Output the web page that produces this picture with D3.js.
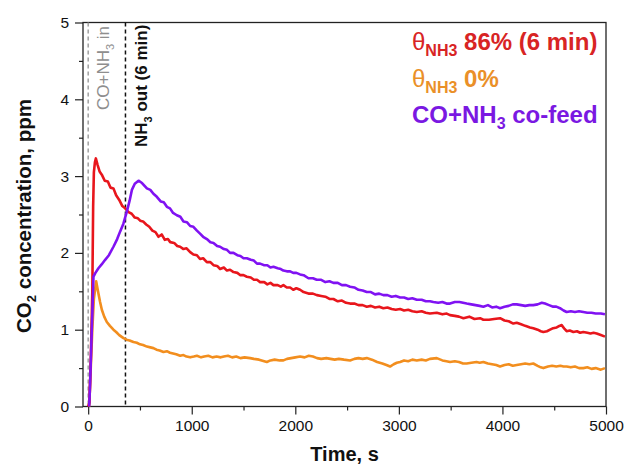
<!DOCTYPE html>
<html>
<head>
<meta charset="utf-8">
<script src="https://cdn.jsdelivr.net/npm/d3@7"></script>
<style>
  body { margin: 0; background: #fff; }
  svg { font-family: "Liberation Sans", Arial, sans-serif; display: block; }
</style>
</head>
<body>
<svg class="chart"></svg>
<script>
// time (s) and CO2 (ppm)
const redTime = [0, 12, 25, 40, 48, 55, 65, 74, 90, 110, 135, 160, 190, 215, 244, 270, 300, 330, 357, 390, 420, 450, 480, 502, 530, 560, 590, 620, 650, 679, 710, 740, 770, 792, 830, 860, 888, 920, 950, 985, 1016, 1050, 1080, 1110, 1146, 1180, 1210, 1245, 1274, 1310, 1340, 1370, 1403, 1440, 1470, 1500, 1532, 1570, 1600, 1630, 1660, 1700, 1730, 1760, 1789, 1830, 1860, 1885, 1918, 1950, 1980, 2010, 2046, 2080, 2127, 2170, 2208, 2250, 2290, 2330, 2368, 2410, 2450, 2490, 2529, 2570, 2610, 2650, 2690, 2730, 2770, 2810, 2850, 2890, 2930, 2970, 3012, 3050, 3090, 3130, 3173, 3220, 3260, 3300, 3366, 3420, 3462, 3494, 3540, 3580, 3623, 3680, 3730, 3784, 3816, 3870, 3920, 3977, 4020, 4060, 4105, 4138, 4180, 4220, 4266, 4298, 4340, 4370, 4395, 4430, 4460, 4490, 4524, 4550, 4572, 4600, 4620, 4650, 4685, 4720, 4750, 4781, 4820, 4850, 4880, 4910, 4950, 4990];
const redCO2 = [0, 0.05, 0.6, 1.5, 2.6, 3.05, 3.18, 3.23, 3.15, 3.06, 3.01, 2.94, 2.93, 2.85, 2.84, 2.75, 2.69, 2.61, 2.58, 2.53, 2.51, 2.46, 2.45, 2.42, 2.41, 2.37, 2.34, 2.29, 2.27, 2.21, 2.24, 2.17, 2.18, 2.14, 2.13, 2.09, 2.08, 2.05, 2.06, 2.01, 1.98, 1.97, 1.92, 1.93, 1.88, 1.88, 1.84, 1.83, 1.79, 1.81, 1.77, 1.78, 1.75, 1.74, 1.71, 1.71, 1.69, 1.68, 1.65, 1.65, 1.62, 1.62, 1.59, 1.61, 1.58, 1.58, 1.56, 1.58, 1.55, 1.55, 1.52, 1.54, 1.52, 1.49, 1.47, 1.47, 1.45, 1.44, 1.43, 1.40, 1.40, 1.37, 1.38, 1.35, 1.34, 1.34, 1.32, 1.32, 1.30, 1.31, 1.29, 1.30, 1.28, 1.29, 1.27, 1.26, 1.27, 1.25, 1.26, 1.24, 1.23, 1.24, 1.22, 1.21, 1.22, 1.20, 1.21, 1.19, 1.18, 1.17, 1.15, 1.17, 1.14, 1.15, 1.13, 1.13, 1.14, 1.15, 1.12, 1.11, 1.08, 1.09, 1.07, 1.05, 1.03, 1.02, 1.00, 0.98, 0.97, 0.98, 1.00, 1.02, 1.03, 1.05, 1.06, 1.01, 0.98, 0.99, 0.97, 0.98, 0.96, 0.97, 0.96, 0.95, 0.96, 0.95, 0.93, 0.91];

const orangeTime = [10, 25, 40, 55, 77, 99, 115, 132, 155, 180, 210, 244, 270, 300, 341, 370, 400, 437, 470, 500, 530, 567, 600, 630, 660, 690, 727, 760, 790, 820, 850, 888, 920, 950, 985, 1020, 1050, 1090, 1120, 1160, 1200, 1240, 1280, 1310, 1350, 1390, 1430, 1470, 1510, 1564, 1600, 1650, 1700, 1725, 1760, 1800, 1850, 1885, 1920, 1960, 2000, 2046, 2090, 2130, 2170, 2210, 2250, 2300, 2340, 2380, 2420, 2470, 2529, 2570, 2610, 2650, 2690, 2740, 2790, 2840, 2880, 2915, 2950, 2980, 3012, 3050, 3090, 3130, 3173, 3220, 3260, 3300, 3366, 3420, 3460, 3494, 3540, 3580, 3620, 3655, 3700, 3750, 3780, 3816, 3860, 3900, 3940, 3977, 4020, 4060, 4100, 4138, 4180, 4220, 4260, 4298, 4340, 4370, 4395, 4440, 4480, 4520, 4560, 4590, 4620, 4660, 4700, 4740, 4781, 4820, 4860, 4900, 4950, 4990];
const orangeCO2 = [0, 0.5, 1.0, 1.4, 1.63, 1.47, 1.36, 1.26, 1.17, 1.10, 1.05, 1.00, 0.97, 0.93, 0.89, 0.87, 0.86, 0.84, 0.83, 0.81, 0.80, 0.78, 0.77, 0.76, 0.74, 0.73, 0.71, 0.72, 0.70, 0.69, 0.68, 0.66, 0.67, 0.65, 0.64, 0.65, 0.66, 0.64, 0.65, 0.66, 0.64, 0.65, 0.64, 0.65, 0.66, 0.64, 0.65, 0.63, 0.64, 0.63, 0.62, 0.61, 0.59, 0.58, 0.60, 0.61, 0.60, 0.60, 0.62, 0.63, 0.64, 0.65, 0.64, 0.66, 0.65, 0.63, 0.62, 0.63, 0.62, 0.61, 0.62, 0.61, 0.60, 0.62, 0.63, 0.62, 0.63, 0.61, 0.58, 0.56, 0.54, 0.52, 0.55, 0.57, 0.58, 0.60, 0.59, 0.61, 0.60, 0.61, 0.60, 0.62, 0.63, 0.60, 0.59, 0.58, 0.59, 0.58, 0.56, 0.56, 0.57, 0.58, 0.57, 0.58, 0.56, 0.55, 0.54, 0.52, 0.54, 0.55, 0.53, 0.54, 0.55, 0.56, 0.55, 0.56, 0.53, 0.51, 0.50, 0.52, 0.53, 0.52, 0.53, 0.52, 0.52, 0.51, 0.52, 0.50, 0.50, 0.51, 0.49, 0.50, 0.48, 0.50];

const purpleTime = [10, 20, 30, 40, 51, 70, 99, 130, 164, 200, 244, 280, 309, 340, 374, 400, 422, 450, 486, 520, 567, 600, 630, 663, 700, 730, 760, 790, 820, 856, 890, 920, 953, 985, 1016, 1050, 1080, 1110, 1146, 1180, 1210, 1245, 1274, 1310, 1340, 1370, 1403, 1440, 1470, 1500, 1532, 1570, 1600, 1630, 1660, 1700, 1730, 1760, 1789, 1830, 1860, 1885, 1918, 1950, 1980, 2010, 2046, 2080, 2127, 2170, 2207, 2250, 2290, 2330, 2368, 2410, 2450, 2490, 2529, 2570, 2610, 2650, 2690, 2730, 2770, 2810, 2850, 2890, 2930, 2970, 3012, 3050, 3090, 3130, 3173, 3220, 3260, 3300, 3333, 3380, 3420, 3460, 3494, 3540, 3585, 3620, 3655, 3700, 3740, 3780, 3816, 3860, 3900, 3940, 3977, 4020, 4060, 4100, 4138, 4180, 4220, 4260, 4298, 4340, 4380, 4411, 4450, 4490, 4520, 4556, 4590, 4620, 4660, 4700, 4740, 4781, 4820, 4860, 4900, 4950, 4990];
const purpleCO2 = [0, 0.35, 0.8, 1.2, 1.69, 1.74, 1.80, 1.85, 1.91, 1.97, 2.08, 2.18, 2.28, 2.38, 2.54, 2.68, 2.82, 2.90, 2.94, 2.91, 2.84, 2.82, 2.77, 2.73, 2.67, 2.66, 2.60, 2.58, 2.52, 2.49, 2.47, 2.41, 2.40, 2.35, 2.34, 2.29, 2.25, 2.21, 2.18, 2.14, 2.13, 2.09, 2.08, 2.05, 2.04, 2.00, 2.00, 1.97, 1.96, 1.93, 1.93, 1.91, 1.90, 1.86, 1.86, 1.84, 1.84, 1.81, 1.82, 1.80, 1.79, 1.77, 1.76, 1.76, 1.74, 1.74, 1.72, 1.71, 1.67, 1.67, 1.65, 1.65, 1.62, 1.63, 1.61, 1.61, 1.58, 1.58, 1.56, 1.55, 1.52, 1.51, 1.49, 1.49, 1.46, 1.47, 1.45, 1.45, 1.43, 1.44, 1.42, 1.42, 1.40, 1.41, 1.39, 1.39, 1.37, 1.37, 1.36, 1.35, 1.36, 1.34, 1.34, 1.36, 1.36, 1.35, 1.34, 1.33, 1.32, 1.31, 1.30, 1.32, 1.29, 1.30, 1.28, 1.30, 1.31, 1.33, 1.33, 1.32, 1.31, 1.32, 1.32, 1.33, 1.35, 1.34, 1.32, 1.30, 1.30, 1.28, 1.25, 1.23, 1.24, 1.23, 1.24, 1.23, 1.22, 1.22, 1.21, 1.21, 1.20];

const xMajor = [0, 1000, 2000, 3000, 4000, 5000];
const xMinor = [500, 1500, 2500, 3500, 4500];
const yMajor = [0, 1, 2, 3, 4, 5];
const yMinor = [0.5, 1.5, 2.5, 3.5, 4.5];

const co2In = 0;      // CO+NH3 in
const nh3Out = 360;   // NH3 out (6 min)

const
  margin = {top: 22.5, right: 19, bottom: 59.5, left: 83},
  width = 625 - margin.left - margin.right,
  height = 466 - margin.top - margin.bottom;

const red = "#e8161c", orange = "#f28e1e", purple = "#8012f2";

const xScale = d3.scaleLinear()
  .domain([-50, 5000])
  .range([0, width]);

const yScale = d3.scaleLinear()
  .domain([0, 5])
  .range([height, 0]);

const svg = d3.select(".chart")
  .attr("width", 625)
  .attr("height", 466);

const g = svg.append("g")
  .attr("transform", `translate(${margin.left},${margin.top})`);

// axes: majors with labels, minors without
g.append("g")
  .attr("transform", `translate(0,${height})`)
  .call(d3.axisBottom(xScale).tickValues(xMajor).tickFormat(d3.format("d")).tickSize(8).tickSizeOuter(0).tickPadding(5))
  .call(a => a.select(".domain").remove());

g.append("g")
  .attr("transform", `translate(0,${height})`)
  .call(d3.axisBottom(xScale).tickValues(xMinor).tickSize(4).tickSizeOuter(0).tickFormat(""))
  .call(a => a.select(".domain").remove());

g.append("g")
  .call(d3.axisLeft(yScale).tickValues(yMajor).tickFormat(d3.format("d")).tickSize(8).tickSizeOuter(0).tickPadding(6))
  .call(a => a.select(".domain").remove());

g.append("g")
  .call(d3.axisLeft(yScale).tickValues(yMinor).tickSize(4).tickSizeOuter(0).tickFormat(""))
  .call(a => a.select(".domain").remove());

g.selectAll(".tick line").attr("stroke", "#222").attr("stroke-width", 1.2);
g.selectAll(".tick text")
  .attr("font-size", 15.5)
  .attr("font-family", "'Liberation Sans', Arial, sans-serif")
  .attr("fill", "#111");

// frame
g.append("rect")
  .attr("width", width)
  .attr("height", height)
  .attr("fill", "none")
  .attr("stroke", "#222")
  .attr("stroke-width", 1.3);

// event markers
g.append("line")
  .attr("x1", xScale(co2In)).attr("x2", xScale(co2In))
  .attr("y1", 0).attr("y2", height)
  .attr("stroke", "#9a9a9a")
  .attr("stroke-width", 1.4)
  .attr("stroke-dasharray", "4,3");

g.append("line")
  .attr("x1", xScale(nh3Out)).attr("x2", xScale(nh3Out))
  .attr("y1", 0).attr("y2", height)
  .attr("stroke", "#111")
  .attr("stroke-width", 1.5)
  .attr("stroke-dasharray", "4,3");

const line = d3.line()
  .x(d => xScale(d[0]))
  .y(d => yScale(d[1]));

const series = [
  {t: orangeTime, v: orangeCO2, c: orange},
  {t: redTime, v: redCO2, c: red},
  {t: purpleTime, v: purpleCO2, c: purple}
];

g.selectAll("path.series")
  .data(series)
  .enter()
  .append("path")
    .attr("class", "series")
    .attr("d", s => line(s.t.map((t, i) => [t, s.v[i]])))
    .attr("fill", "none")
    .attr("stroke", s => s.c)
    .attr("stroke-width", 2.6)
    .attr("stroke-linejoin", "round");

// rotated annotations
const inLabel = svg.append("text")
  .attr("transform", "translate(109,110) rotate(-90)")
  .attr("font-size", 17)
  .attr("fill", "#8e8e8e");
inLabel.append("tspan").text("CO+NH");
inLabel.append("tspan").attr("font-size", 11).attr("dy", 5).text("3");
inLabel.append("tspan").attr("dy", -5).text(" in");

const outLabel = svg.append("text")
  .attr("transform", "translate(147,147) rotate(-90)")
  .attr("font-size", 17)
  .attr("font-weight", "bold")
  .attr("fill", "#111");
outLabel.append("tspan").text("NH");
outLabel.append("tspan").attr("font-size", 11).attr("dy", 5).text("3");
outLabel.append("tspan").attr("dy", -5).text(" out (6 min)");

// legend
const leg1 = svg.append("text")
  .attr("x", 412).attr("y", 50)
  .attr("font-size", 24).attr("font-weight", "bold").attr("fill", "#d82424");
leg1.append("tspan").attr("font-weight", "normal").text("θ");
leg1.append("tspan").attr("font-size", 16).attr("dy", 6).text("NH3");
leg1.append("tspan").attr("dy", -6).text(" 86% (6 min)");

const leg2 = svg.append("text")
  .attr("x", 412).attr("y", 87)
  .attr("font-size", 24).attr("font-weight", "bold").attr("fill", "#ea9028");
leg2.append("tspan").attr("font-weight", "normal").text("θ");
leg2.append("tspan").attr("font-size", 16).attr("dy", 6).text("NH3");
leg2.append("tspan").attr("dy", -6).text(" 0%");

const leg3 = svg.append("text")
  .attr("x", 412).attr("y", 123)
  .attr("font-size", 24).attr("font-weight", "bold").attr("fill", "#7a18e2");
leg3.append("tspan").text("CO+NH");
leg3.append("tspan").attr("font-size", 16).attr("dy", 6).text("3");
leg3.append("tspan").attr("dy", -6).text(" co-feed");

// axis titles
const yTitle = svg.append("text")
  .attr("transform", "translate(31,216) rotate(-90)")
  .attr("text-anchor", "middle")
  .attr("font-size", 20.5)
  .attr("font-weight", "bold")
  .attr("fill", "#111");
yTitle.append("tspan").text("CO");
yTitle.append("tspan").attr("font-size", 13).attr("dy", 5).text("2");
yTitle.append("tspan").attr("dy", -5).text(" concentration, ppm");

svg.append("text")
  .attr("x", margin.left + width / 2)
  .attr("y", 461)
  .attr("text-anchor", "middle")
  .attr("font-size", 20)
  .attr("font-weight", "bold")
  .attr("fill", "#111")
  .text("Time, s");
</script>
</body>
</html>
